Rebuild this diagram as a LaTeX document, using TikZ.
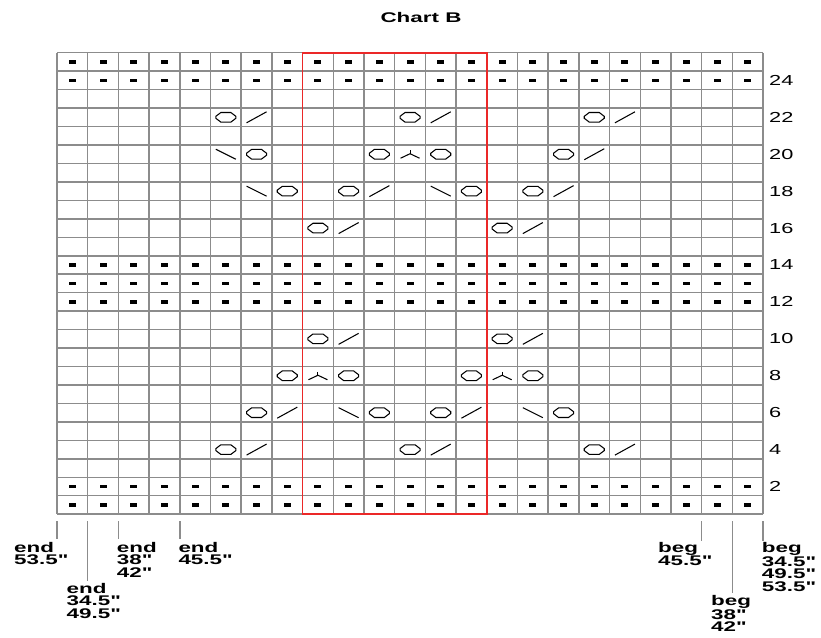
\documentclass[tikz,border=0pt]{standalone}
\usepackage{fontspec}
\newfontfamily\lblfont[FakeStretch=1.6]{Liberation Sans}
\newfontfamily\numfont[FakeStretch=1.5]{Liberation Sans}
\definecolor{gridgray}{RGB}{140,140,140}
\definecolor{chartred}{RGB}{235,40,40}
\tikzset{
  gridline/.style={draw=gridgray, line width=1.5pt},
  redbox/.style={draw=chartred, line width=1.6pt},
  sym/.style={draw=black, line width=1.05pt, line join=miter},
  lbl/.style={font=\lblfont\bfseries\fontsize{14}{12.5}\selectfont, inner sep=0pt, align=left, anchor=north west},
  numlbl/.style={font=\numfont\fontsize{14.5}{14.5}\selectfont, inner sep=0pt, anchor=west},
  marker/.style={draw=gridgray, line width=1.5pt},
  yo/.pic={\draw[sym] (-10,-1)--(-5,-4.8)--(5,-4.8)--(10,-1)--(10,1)--(5,4.8)--(-5,4.8)--(-10,1)--cycle;},
  ktog/.pic={\draw[sym] (-10,5.5)--(10,-5.5);},
  sskk/.pic={\draw[sym] (-10,-5)--(10,5);},
  skp/.pic={\draw[sym] (0,-4)--(0,-0.5); \draw[sym] (-9.5,4)--(0,-0.5)--(9.5,4);},
  purl/.pic={\fill[black] (-3.5,-1.7) rectangle (3.5,1.7);}
}
\newcommand\cellat[2]{({57+30.7*(#1+0.5)},{52.7+18.46*(25.5-#2)})}
\begin{document}
\begin{tikzpicture}[x=1pt,y=-1pt]
\useasboundingbox (0,0) rectangle (821,637);
\fill[white] (0,0) rectangle (821,637);
% title
\node[font=\lblfont\bfseries\fontsize{14}{14}\selectfont, inner sep=0pt] (title) at (421,17) {Chart B};
% grid
\foreach \i in {0,...,23} \draw[gridline] ({57+30.7*\i},52.7) -- ({57+30.7*\i},514.2);
\foreach \j in {0,...,25} \draw[gridline] (57,{52.7+18.46*\j}) -- (763.1,{52.7+18.46*\j});
% purl dots
\foreach \n in {1,2,12,13,14,24,25}
  \foreach \c in {0,...,22}
    \pic at \cellat{\c}{\n} {purl};
% yarn overs
\foreach \c/\n in {5/22,11/22,17/22,6/20,10/20,12/20,16/20,7/18,9/18,13/18,15/18,8/16,14/16,8/10,14/10,7/8,9/8,13/8,15/8,6/6,10/6,12/6,16/6,5/4,11/4,17/4}
  \pic at \cellat{\c}{\n} {yo};
% k2tog
\foreach \c/\n in {6/22,12/22,18/22,17/20,10/18,16/18,9/16,15/16,9/10,15/10,7/6,13/6,6/4,12/4,18/4}
  \pic at \cellat{\c}{\n} {ktog};
% ssk
\foreach \c/\n in {5/20,6/18,12/18,9/6,15/6}
  \pic at \cellat{\c}{\n} {sskk};
% sk2p
\foreach \c/\n in {11/20,8/8,14/8}
  \pic at \cellat{\c}{\n} {skp};
% red repeat box
\draw[redbox] (302.6,52.7) rectangle (486.8,514.2);
% row numbers
\foreach \n in {2,4,...,24}
  \node[numlbl] (row\n) at ({769},{52.7+18.46*(25.5-\n)}) {\n};
% markers below chart
\coordinate (m1a) at (57,521);    \coordinate (m1b) at (57,539);
\coordinate (m2a) at (87.7,521);  \coordinate (m2b) at (87.7,581);
\coordinate (m3a) at (118.4,521); \coordinate (m3b) at (118.4,539);
\coordinate (m4a) at (179.8,521); \coordinate (m4b) at (179.8,539);
\coordinate (m5a) at (701.7,521); \coordinate (m5b) at (701.7,541);
\coordinate (m6a) at (732.4,521); \coordinate (m6b) at (732.4,593);
\coordinate (m7a) at (763.1,521); \coordinate (m7b) at (763.1,541);
\foreach \k in {1,...,7} \draw[marker] (m\k a) -- (m\k b);
\node[lbl] (e1) at (14,542) {end\\53.5"};
\node[lbl] (e2) at (66.5,583) {end\\34.5"\\49.5"};
\node[lbl] (e3) at (116.7,542) {end\\38"\\42"};
\node[lbl] (e4) at (178.3,542) {end\\45.5"};
\node[lbl] (b1) at (658,542) {beg\\45.5"};
\node[lbl] (b2) at (711,595) {beg\\38"\\42"};
\node[lbl] (b3) at (761.7,542) {beg\\34.5"\\49.5"\\53.5"};
\end{tikzpicture}
\end{document}
